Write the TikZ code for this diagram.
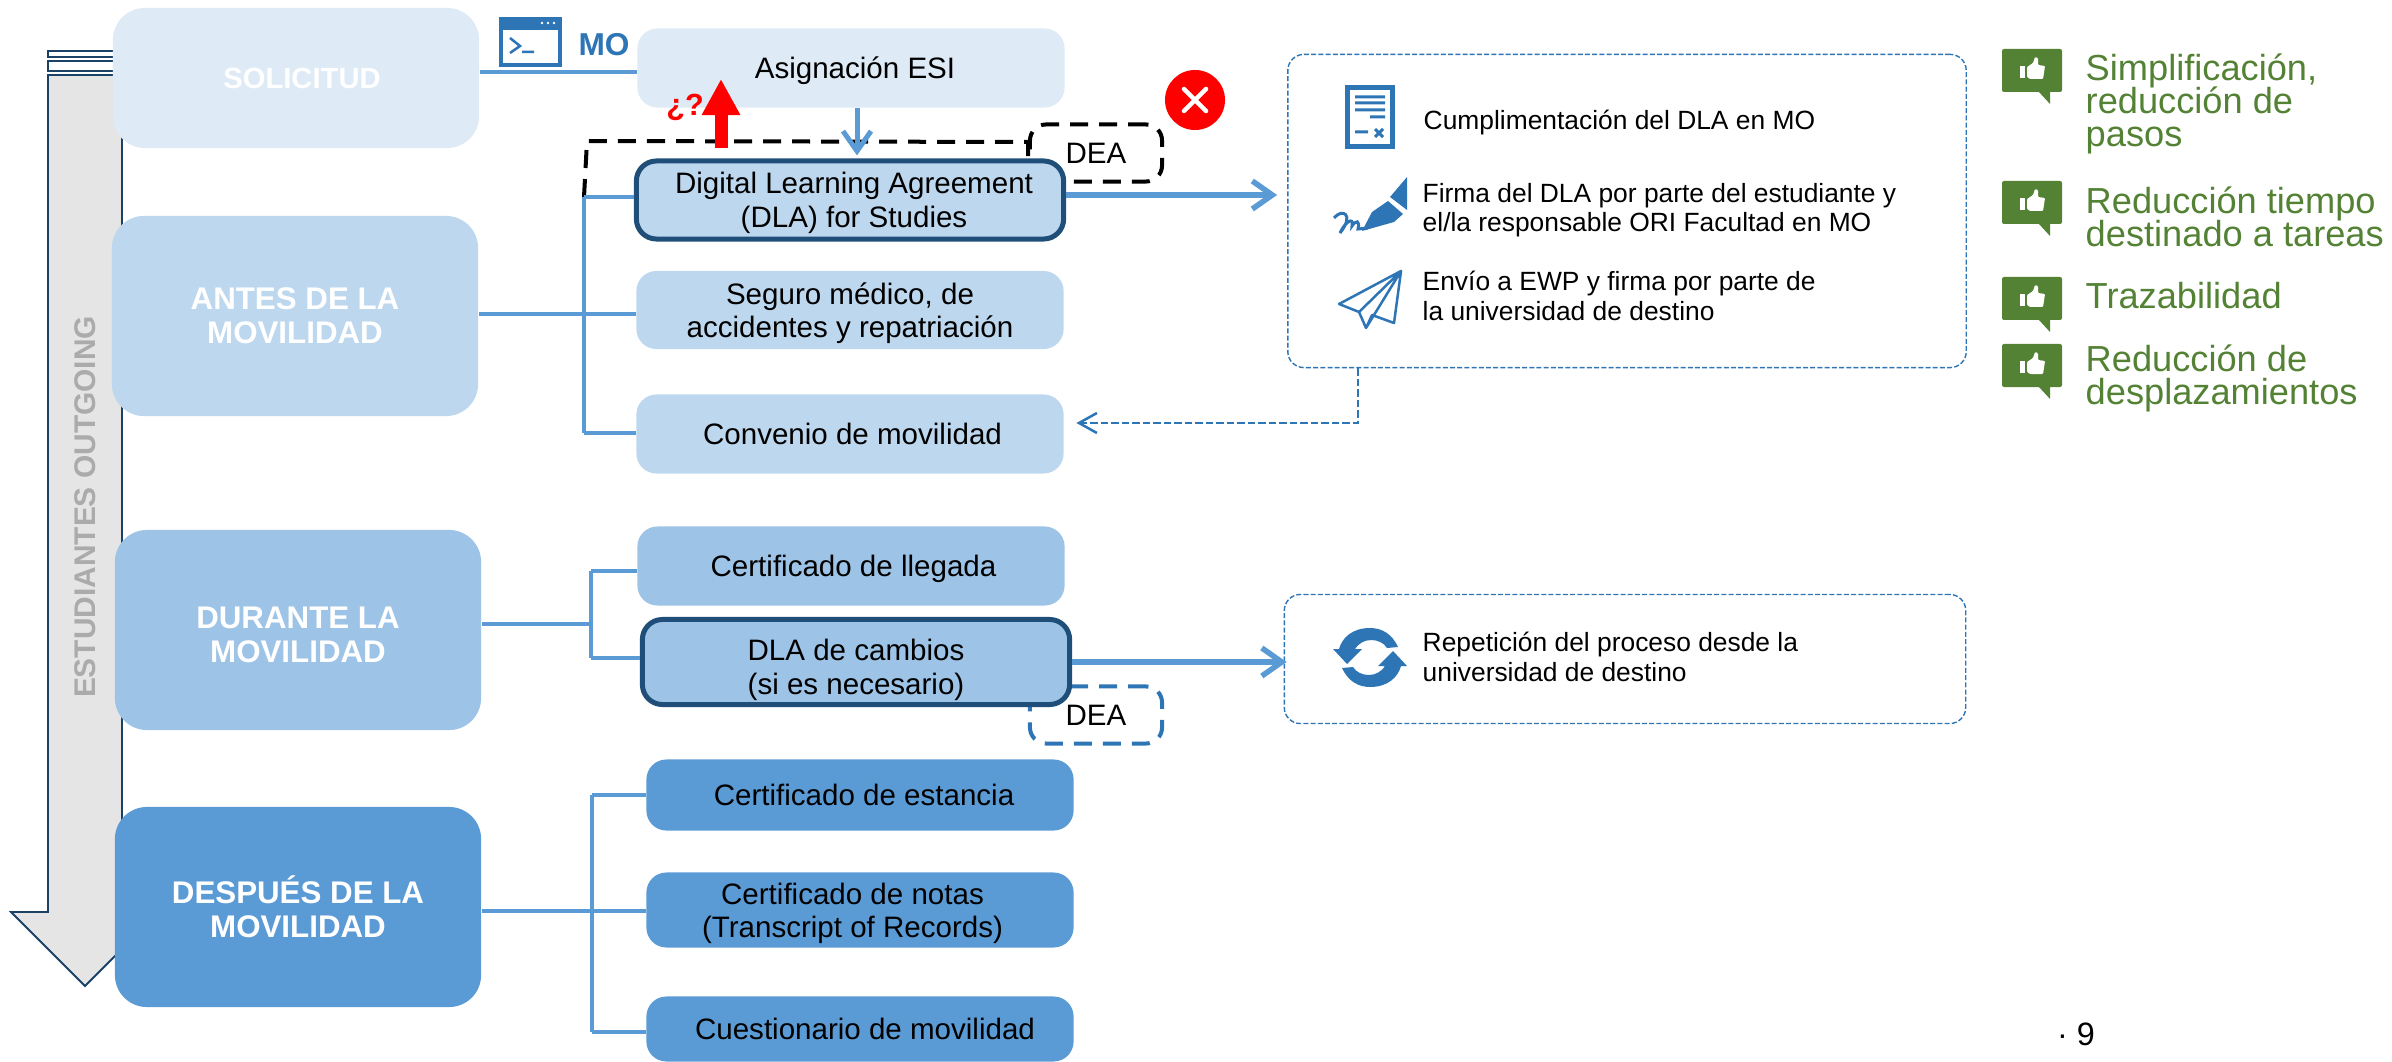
\documentclass[tikz,border=0pt]{standalone}
\usepackage{fontspec}
\setmainfont{Liberation Sans}
\usetikzlibrary{arrows.meta}

\definecolor{tone1}{HTML}{DEEAF6}
\definecolor{tone2}{HTML}{BDD7EE}
\definecolor{tone3}{HTML}{9DC3E6}
\definecolor{tone4}{HTML}{5B9BD5}
\definecolor{deep}{HTML}{1F4E79}
\definecolor{iconblue}{HTML}{2E75B6}
\definecolor{leaf}{HTML}{548235}
\newcommand{\gainfont}{\fontsize{10.3}{9.4}\selectfont\lineskiplimit=-6pt\relax}

\begin{document}
\begin{tikzpicture}
  [x=0.01cm,y=-0.01cm,
   phase/.style={rounded corners=0.32cm,text=white,align=center,minimum width=3.66cm,
     font=\fontsize{8.9}{9.7}\selectfont\bfseries},
   task/.style={rounded corners=0.2cm,align=center,minimum width=4.27cm,text=black,inner sep=0pt,
     text depth=0pt,font=\fontsize{8.4}{9.5}\selectfont},
   keytask/.style={task,draw=deep,line width=0.05cm},
   link/.style={draw=tone4,line width=0.04cm},
   flow/.style={draw=tone4,line width=0.055cm,-{Straight Barb[length=0.2cm,width=0.28cm]}},
   deabox/.style={rounded corners=0.16cm,dash pattern=on 0.18cm off 0.11cm,
     line width=0.04cm,minimum width=1.32cm,minimum height=0.57cm,
     font=\fontsize{8.4}{9.5}\selectfont},
   detail/.style={draw=iconblue,rounded corners=0.16cm,line width=0.4pt,
     dash pattern=on 0.05cm off 0.022cm},
   steptext/.style={anchor=west,inner sep=0pt,align=left,
     font=\fontsize{7.5}{8.4}\selectfont},
   gain/.style={anchor=west,inner sep=0pt,align=left,text=leaf,font=\gainfont}]
  \useasboundingbox (0,0) rectangle (2392,1061);

  \draw[draw=deep!85!black,line width=0.018cm,fill=white] (48,51) rectangle (116,57);
  \draw[draw=deep!85!black,line width=0.018cm,fill=white] (48,61) rectangle (116,71);
  \draw[draw=deep!85!black,line width=0.018cm,fill=black!10]
    (48,75) -- (122,75) -- (122,912) -- (159,912) -- (85,986) -- (11,912) -- (48,912) -- cycle;
  \node[rotate=90,text=black!33,font=\fontsize{8.5}{10}\selectfont\bfseries] (outgoing) at (85,507) {ESTUDIANTES OUTGOING};

  \node[phase,fill=tone1,minimum height=1.4cm,font=\fontsize{8.3}{9.7}\selectfont\bfseries] (solicitud) at (296,78) {\hspace*{0.12cm}SOLICITUD};
  \node[phase,fill=tone2,minimum height=2cm] (antes) at (295,316) {ANTES DE LA\\MOVILIDAD};
  \node[phase,fill=tone3,minimum height=2cm] (durante) at (298,630) {\rule{0pt}{8.8pt}DURANTE LA\\MOVILIDAD};
  \node[phase,fill=tone4,minimum height=2cm] (despues) at (298,907) {DESPUÉS DE LA\\MOVILIDAD};

  \draw[dash pattern=on 0.18cm off 0.11cm,line width=0.04cm] (584,197) -- (587,141) -- (1028,142) -- (1028,165);
  \node[deabox,draw=black] (dea) at (1096,153) {DEA};
  \node[deabox,draw=iconblue] (deab) at (1096,715) {DEA};

  \node[task,fill=tone1,minimum height=0.79cm] (esi) at (851,68) {\hspace*{0.08cm}Asignación ESI};
  \node[keytask,fill=tone2,minimum height=0.78cm] (dla) at (850,200) {\hspace*{0.08cm}Digital Learning Agreement\\\hspace*{0.08cm}(DLA) for Studies};
  \node[task,fill=tone2,minimum height=0.78cm] (seguro) at (850,310) {Seguro médico, de\\accidentes y repatriación};
  \node[task,fill=tone2,minimum height=0.79cm] (convenio) at (850,434) {\hspace*{0.05cm}Convenio de movilidad};
  \node[task,fill=tone3,minimum height=0.79cm] (llegada) at (851,566) {\hspace*{0.05cm}Certificado de llegada};
  \node[keytask,fill=tone3,minimum height=0.85cm] (cambios) at (856,662) {\rule{0pt}{8.8pt}DLA de cambios\\(si es necesario)};
  \node[task,fill=tone4,minimum height=0.71cm] (estancia) at (860,795) {\hspace*{0.08cm}Certificado de estancia};
  \node[task,fill=tone4,minimum height=0.75cm] (notas) at (860,910) {Certificado de notas\hspace*{0.15cm}\\(Transcript of Records)\hspace*{0.15cm}};
  \node[task,fill=tone4,minimum height=0.65cm] (cuestionario) at (860,1029) {\hspace*{0.1cm}Cuestionario de movilidad};

  \node[detail,minimum width=6.78cm,minimum height=3.13cm] (pasos) at (1627,211) {};
  \node[detail,minimum width=6.81cm,minimum height=1.29cm] (repite) at (1625,659) {};

  \coordinate (ma) at (584,197);
  \coordinate (mb) at (584,433);
  \coordinate (mc) at (584,314);
  \coordinate (da) at (591,571);
  \coordinate (db) at (591,658);
  \coordinate (dc) at (591,624);
  \coordinate (ea) at (592,795);
  \coordinate (eb) at (592,1032);
  \coordinate (ec) at (592,911);
  \coordinate (sa) at (500,72);
  \coordinate (fa) at (857,120);
  \coordinate (fb) at (1100,195);
  \coordinate (fc) at (1358,423);

  \draw[link] (solicitud.east |- sa) -- (esi.west |- sa);
  \draw[link] (antes.east |- mc) -- (seguro.west |- mc);
  \draw[link] (ma) -- (mb);
  \draw[link] (durante.east |- dc) -- (dc);
  \draw[link] (da) -- (db);
  \draw[link] (despues.east |- ec) -- (notas.west |- ec);
  \draw[link] (ea) -- (eb);
  \foreach \from/\to in {ma/dla,mb/convenio,da/llegada,db/cambios,ea/estancia,eb/cuestionario}
    \draw[link] (\from) -- (\from -| \to.west);
  \draw[flow,line width=0.05cm] (esi.south -| fa) -- ([yshift=0.03cm]dla.north -| fa);
  \draw[flow] (dla.east |- fb) -- ([xshift=-0.1cm]pasos.west |- fb);
  \draw[flow] (cambios.east) -- ([xshift=0.03cm]repite.west |- cambios.east);
  \draw[draw=iconblue,line width=0.02cm,dash pattern=on 0.075cm off 0.03cm,
    -{Straight Barb[length=0.18cm,width=0.2cm,line width=0.025cm]}]
    (pasos.south -| fc) |- ([xshift=0.12cm]convenio.east |- fc);

  \coordinate (up) at (721,79);
  \draw[red,line width=0.13cm,-{Triangle[length=0.36cm,width=0.36cm]}] (721,148) -- (up);
  \node[text=red,font=\fontsize{8.7}{10}\selectfont\bfseries] (duda) at (685,107) {¿?};
  \node[circle,fill=red,minimum size=0.6cm,inner sep=0pt] (nope) at (1195,100) {};
  \draw[white,line width=0.045cm,line cap=round] (1184,89) -- (1206,111) (1206,89) -- (1184,111);

  \fill[iconblue] (499,17) rectangle (562,67);
  \fill[white] (503,30) rectangle (558,63);
  \fill[white] (542,23) circle (1.3) (548,23) circle (1.3) (554,23) circle (1.3);
  \draw[iconblue,line width=0.025cm] (510,38) -- (520,46) -- (510,53) (522,52) -- (534,52);
  \node[text=iconblue,font=\fontsize{9}{10}\selectfont\bfseries] (mo) at (604,45) {MO};

  \draw[iconblue,line width=0.05cm,fill=white] (1347.5,87.5) rectangle (1392.5,146.5);
  \draw[iconblue,line width=0.03cm] (1355,97) -- (1385,97) (1355,103) -- (1385,103) (1355,110) -- (1385,110)
    (1370,117) -- (1385,117) (1355,132) -- (1368,132) (1375,129) -- (1383,137) (1383,129) -- (1375,137);
  \node[steptext] (txa) at (1423,123) {Cumplimentación del DLA en MO};

  \fill[iconblue] (1407,177) -- (1390,197) -- (1407,210) -- cycle;
  \fill[iconblue] (1388,201) -- (1403,214) -- (1394,222) -- (1362,231) -- (1372,212) -- cycle;
  \draw[iconblue,line width=0.03cm] (1334,218) .. controls (1342,208) and (1355,214) .. (1340,233)
    .. controls (1345,222) and (1354,216) .. (1352,226) .. controls (1356,220) and (1360,220) .. (1358,229) -- (1368,228);
  \node[steptext] (txb) at (1422,210) {Firma del DLA por parte del estudiante y\\el/la responsable ORI Facultad en MO};

  \draw[iconblue,line width=0.025cm,line join=round] (1401,271) -- (1339,304) -- (1359,312) -- (1366,328) -- (1372,315)
    -- (1394,323) -- cycle (1401,271) -- (1359,312) (1401,271) -- (1366,328);
  \node[steptext] (txc) at (1422,296) {Envío a EWP y firma por parte de\\la universidad de destino};

  \foreach \ang in {0,180}
    \fill[iconblue,rotate around={\ang:(1370,657.5)}] (1398,647) .. controls (1392,634) and (1382,628) .. (1370,628)
      .. controls (1352,628) and (1342,638) .. (1339,649) -- (1333,649) -- (1347,664) -- (1362,649) -- (1355,649)
      .. controls (1358,644) and (1364,640) .. (1371,640) .. controls (1378,640) and (1384,643) .. (1387,648) -- cycle;
  \node[steptext] (txd) at (1422,657) {Repetición del proceso desde la\\universidad de destino};

  \foreach \ytop in {49,181,277,344} {
    \begin{scope}[shift={(2002,\ytop)}]
      \fill[leaf,rounded corners=0.02cm] (0,0) rectangle (60,43);
      \fill[leaf] (36,42) -- (48,42) -- (48,55) -- cycle;
      \fill[white] (18,17) rectangle (23,29);
      \fill[white,rounded corners=0.01cm] (25,18) -- (31,14) -- (33,8) -- (36,9) -- (36,16) -- (43,17) -- (41,30) -- (28,30) -- (25,28) -- cycle;
    \end{scope}
  }
  \node[gain] (gaina) at (2085,104) {Simplificación,\\reducción de\\pasos};
  \node[gain] (gainb) at (2085,217) {Reducción tiempo\\destinado a tareas};
  \node[gain] (gainc) at (2085,296) {Trazabilidad};
  \node[gain] (gaind) at (2085,378) {Reducción de\\desplazamientos};

  \node[font=\fontsize{9.2}{10}\selectfont] (pagina) at (2076,1034) {· 9};
\end{tikzpicture}
\end{document}
